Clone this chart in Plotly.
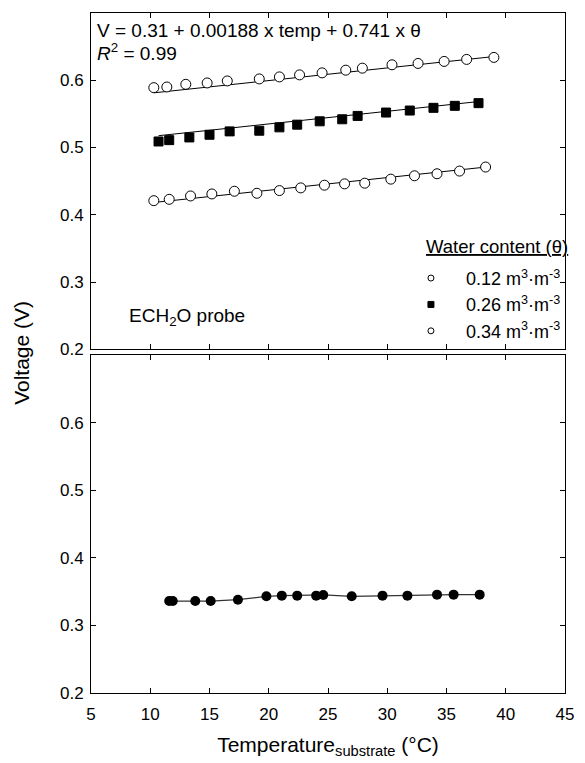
import plotly.graph_objects as go
import numpy as np

# ---------------- data ----------------
# Top panel: ECH2O probe voltage vs substrate temperature at three water contents
temp_012 = [10.3, 11.6, 13.4, 15.2, 17.1, 19.0, 20.9, 22.7, 24.7, 26.4, 28.1, 30.3, 32.3, 34.2, 36.1, 38.3]
volt_012 = [0.421, 0.423, 0.428, 0.431, 0.435, 0.432, 0.436, 0.440, 0.444, 0.446, 0.447, 0.453, 0.458, 0.461, 0.465, 0.471]

temp_026 = [10.7, 11.6, 13.3, 15.0, 16.7, 19.2, 20.9, 22.4, 24.3, 26.2, 27.5, 29.9, 31.9, 33.9, 35.7, 37.7]
volt_026 = [0.509, 0.511, 0.515, 0.519, 0.524, 0.525, 0.530, 0.534, 0.539, 0.542, 0.547, 0.552, 0.555, 0.559, 0.562, 0.566]

temp_034 = [10.3, 11.4, 13.0, 14.8, 16.5, 19.2, 20.9, 22.6, 24.5, 26.5, 27.9, 30.4, 32.6, 34.8, 36.7, 39.0]
volt_034 = [0.589, 0.590, 0.594, 0.596, 0.599, 0.602, 0.605, 0.608, 0.611, 0.615, 0.618, 0.623, 0.625, 0.628, 0.631, 0.634]

# Regression model shown on the chart: V = a + b*temp + c*theta
fit_a, fit_b, fit_c = 0.31, 0.00188, 0.741
fit_theta = [0.12, 0.253, 0.34]   # theta used for each drawn fit line

legend_names = ["0.12 m<sup>3</sup>·m<sup>-3</sup>",
                "0.26 m<sup>3</sup>·m<sup>-3</sup>",
                "0.34 m<sup>3</sup>·m<sup>-3</sup>"]

# Bottom panel
temp_bottom = [11.6, 11.9, 13.8, 15.1, 17.4, 19.8, 21.1, 22.4, 24.0, 24.6, 27.0, 29.6, 31.7, 34.2, 35.6, 37.8]
volt_bottom = [0.336, 0.336, 0.336, 0.336, 0.338, 0.343, 0.344, 0.344, 0.344, 0.345, 0.343, 0.344, 0.344, 0.3455, 0.3455, 0.3455]

x_ticks = [5, 10, 15, 20, 25, 30, 35, 40, 45]
y_ticks = [0.2, 0.3, 0.4, 0.5, 0.6]

FONT = "Arial, Liberation Sans, sans-serif"
NB = "\u00a0\u00a0\u00a0"

fig = go.Figure()

series = [(temp_012, volt_012, "circle", "white"),
          (temp_026, volt_026, "square", "black"),
          (temp_034, volt_034, "circle", "white")]

# fit lines
for (t, v, sym, fill), th in zip(series, fit_theta):
    tt = np.array([min(t), max(t)])
    fig.add_trace(go.Scatter(x=tt, y=fit_a + fit_b * tt + fit_c * th, mode="lines",
                             line=dict(color="black", width=1), showlegend=False,
                             xaxis="x", yaxis="y", hoverinfo="skip"))

# data markers
for (t, v, sym, fill), name in zip(series, legend_names):
    fig.add_trace(go.Scatter(x=t, y=v, mode="markers", name=name, showlegend=False,
                             marker=dict(symbol=sym, size=10 if sym == "circle" else 9,
                                         color=fill, line=dict(color="black", width=1)),
                             xaxis="x", yaxis="y"))

# legend-only entries (smaller symbols as in the reference legend)
for (t, v, sym, fill), name in zip(series, legend_names):
    fig.add_trace(go.Scatter(x=[None], y=[None], mode="markers", name=NB + name,
                             marker=dict(symbol=sym, size=6,
                                         color=fill, line=dict(color="black", width=1)),
                             xaxis="x", yaxis="y"))

# bottom panel
fig.add_trace(go.Scatter(x=temp_bottom, y=volt_bottom, mode="lines+markers", showlegend=False,
                         line=dict(color="#333333", width=1.2),
                         marker=dict(symbol="circle", size=10, color="black"),
                         xaxis="x2", yaxis="y2"))

axis_common = dict(range=[5, 45], tickvals=x_ticks, ticks="inside", ticklen=5,
                   tickcolor="black", showline=True, linecolor="black", linewidth=1,
                   mirror="ticks", showgrid=False, zeroline=False,
                   tickfont=dict(family=FONT, size=17, color="black"))
yaxis_common = dict(range=[0.2, 0.7], tickvals=y_ticks, ticktext=["0.2", "0.3", "0.4", "0.5", "0.6"],
                    ticks="inside", ticklen=5, tickcolor="black", showline=True,
                    linecolor="black", linewidth=1, mirror="ticks", showgrid=False,
                    zeroline=False, ticklabelstandoff=3,
                    tickfont=dict(family=FONT, size=17, color="black"))

fig.update_layout(
    width=585, height=763,
    margin=dict(l=91, r=11, t=13, b=67),
    paper_bgcolor="white", plot_bgcolor="white",
    font=dict(family=FONT, color="black"),
    xaxis=dict(axis_common, domain=[0, 1], anchor="y", showticklabels=False),
    yaxis=dict(yaxis_common, domain=[0.5054, 1], anchor="x"),
    xaxis2=dict(axis_common, domain=[0, 1], anchor="y2", ticklabelstandoff=6,
                title=dict(text="Temperature<sub>substrate</sub> (°C)",
                           font=dict(family=FONT, size=21, color="black"), standoff=13)),
    yaxis2=dict(yaxis_common, domain=[0, 0.4971], anchor="x2"),
    legend=dict(x=0.675, y=0.637, xanchor="left", yanchor="top",
                bgcolor="rgba(0,0,0,0)", borderwidth=0,
                font=dict(family=FONT, size=18, color="black"),
                itemsizing="trace", tracegroupgap=0),
    annotations=[
        dict(text="V = 0.31 + 0.00188 x temp + 0.741 x θ", x=5.3, y=0.674,
             xref="x", yref="y", xanchor="left", yanchor="middle", showarrow=False,
             font=dict(family=FONT, size=19, color="black")),
        dict(text="<i>R</i><sup>2</sup> = 0.99", x=5.3, y=0.642,
             xref="x", yref="y", xanchor="left", yanchor="middle", showarrow=False,
             font=dict(family=FONT, size=19, color="black")),
        dict(text="<u>Water content (θ)</u>", x=0.702, y=0.657,
             xref="paper", yref="paper", xanchor="left", yanchor="middle", showarrow=False,
             font=dict(family=FONT, size=18.5, color="black")),
        dict(text="ECH<sub>2</sub>O probe", x=8.0, y=0.248,
             xref="x", yref="y", xanchor="left", yanchor="middle", showarrow=False,
             font=dict(family=FONT, size=19, color="black")),
        dict(text="Voltage (V)", x=-0.148, y=0.5, xref="paper", yref="paper",
             xanchor="center", yanchor="middle", textangle=-90, showarrow=False,
             font=dict(family=FONT, size=21, color="black")),
    ],
)

fig.write_html("out.html", config={"displayModeBar": False},
               post_script="document.body.style.margin='0';")
